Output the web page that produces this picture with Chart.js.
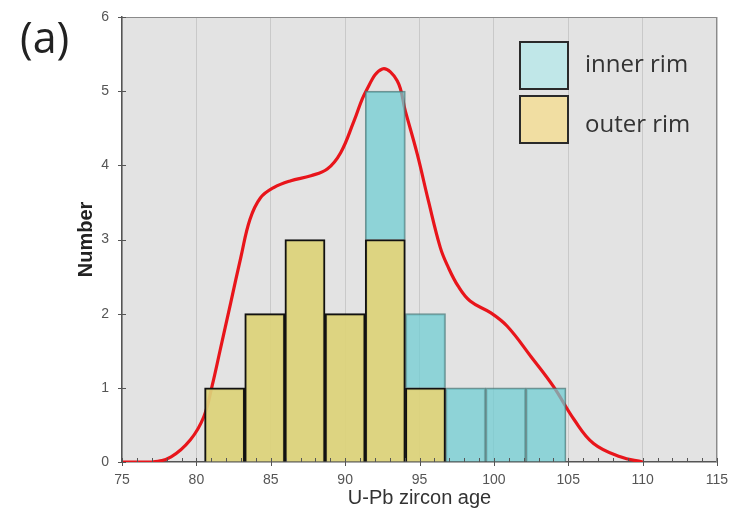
<!DOCTYPE html>
<html>
<head>
<meta charset="utf-8">
<script src="https://cdn.jsdelivr.net/npm/chart.js@4.4.0/dist/chart.umd.min.js"></script>
<style>
  body { margin: 0; background: #fff; }
  #wrap { position: relative; width: 734px; height: 511px; }
  #myChart { position: absolute; left: 0; top: 0; }
  #panel { position: absolute; left: 20px; top: 7px; font: 43px "Open Sans", sans-serif; color: #222; }
  .leg-box { position: absolute; left: 519px; width: 46px; height: 45px; border: 2px solid #2a2a2a; }
  .leg-txt { position: absolute; left: 585px; font: 24px "Open Sans", sans-serif; color: #333; }
</style>
</head>
<body>
<div id="wrap">
  <canvas id="myChart" width="734" height="511"></canvas>
  <div id="panel">(a)</div>
  <div class="leg-box" style="top:41px; background:#c0e7e8;"></div>
  <div class="leg-txt" style="top:46px;">inner rim</div>
  <div class="leg-box" style="top:95px; background:#f1dea2;"></div>
  <div class="leg-txt" style="top:106px;">outer rim</div>
</div>
<script>
// Données de l'histogramme (centres des classes, largeur ~2.7 Ma)
const binCenters = [81.9, 84.6, 87.3, 90.0, 92.7, 95.4, 98.1, 100.8, 103.5];
const outerRim = [1, 2, 3, 2, 3, 1, 0, 0, 0];
const innerRim = [0, 0, 0, 0, 2, 1, 1, 1, 1];

// Courbe de densité
const kdeAges = [75, 77, 78.3, 79.6, 80.5, 81.05, 81.6, 82.3, 83.0, 83.6, 84.3, 85.2, 86.3, 87.7, 88.8, 89.7,
  90.6, 91.4, 92.5, 93.5, 94.05, 94.85, 95.6, 96.4, 96.9, 97.6, 98.4, 99.8, 100.9, 102.5, 104.0, 105.4,
  106.7, 108.5, 110];
const kdeValues = [0, 0, 0.07, 0.3, 0.61, 1.02, 1.51, 2.14, 2.77, 3.27, 3.56, 3.7, 3.79, 3.86, 3.95, 4.17,
  4.6, 5.0, 5.3, 5.14, 4.73, 4.15, 3.52, 2.89, 2.64, 2.37, 2.17, 2.01, 1.83, 1.42, 1.02, 0.57,
  0.25, 0.07, 0];

// Axes
const xMin = 75, xMax = 115, xStep = 5;
const yMin = 0, yMax = 6;

// Construction des points
let outerData = [];
let innerData = [];
for (let i = 0; i < binCenters.length; i++) {
  if (outerRim[i] > 0) outerData.push({ x: binCenters[i], y: outerRim[i] });
  if (innerRim[i] > 0) innerData.push({ x: binCenters[i], y: innerRim[i] });
}
let kdeData = [];
for (let i = 0; i < kdeAges.length; i++) {
  kdeData.push({ x: kdeAges[i], y: kdeValues[i] });
}

// Pas de marge automatique autour des étiquettes
function noPadding(scale) {
  scale.paddingTop = 0;
  scale.paddingBottom = 0;
  scale.paddingLeft = 0;
  scale.paddingRight = 0;
}

// Fond gris, cadre et petites graduations
const framePlugin = {
  id: 'frame',
  beforeDraw(chart) {
    const a = chart.chartArea, ctx = chart.ctx;
    ctx.save();
    ctx.fillStyle = '#e3e3e3';
    ctx.fillRect(a.left, a.top, a.right - a.left, a.bottom - a.top);
    ctx.restore();
  },
  afterDraw(chart) {
    const a = chart.chartArea, ctx = chart.ctx;
    const xs = chart.scales.x, ys = chart.scales.y;
    ctx.save();
    ctx.strokeStyle = '#8a8a8a';
    ctx.lineWidth = 1;
    ctx.beginPath();
    ctx.moveTo(a.left, a.top + 0.5);
    ctx.lineTo(a.right, a.top + 0.5);
    ctx.moveTo(a.right - 0.5, a.top);
    ctx.lineTo(a.right - 0.5, a.bottom);
    ctx.stroke();

    ctx.strokeStyle = '#555';
    ctx.beginPath();
    for (let v = xMin; v <= xMax; v++) {
      const px = Math.round(xs.getPixelForValue(v)) + 0.5;
      if (v % xStep === 0) {
        ctx.moveTo(px, a.bottom - 4);
        ctx.lineTo(px, a.bottom + 4);
      } else {
        ctx.moveTo(px, a.bottom - 4);
        ctx.lineTo(px, a.bottom);
      }
    }
    for (let v = yMin; v <= yMax; v++) {
      const py = Math.round(ys.getPixelForValue(v)) + 0.5;
      ctx.moveTo(a.left - 4, py);
      ctx.lineTo(a.left + 4, py);
    }
    ctx.stroke();
    ctx.restore();
  }
};

const ctx = document.getElementById('myChart');

new Chart(ctx, {
  data: {
    datasets: [
      {
        type: 'bar',
        label: 'outer rim',
        data: outerData,
        backgroundColor: 'rgba(220, 210, 120, 0.92)',
        borderColor: '#111',
        borderWidth: 2,
        barPercentage: 1,
        categoryPercentage: 1,
        order: 1
      },
      {
        type: 'bar',
        label: 'inner rim',
        data: innerData,
        backgroundColor: 'rgba(110, 205, 210, 0.72)',
        borderColor: 'rgba(70, 120, 120, 0.75)',
        borderWidth: 1.5,
        barPercentage: 1,
        categoryPercentage: 1,
        order: 2
      },
      {
        type: 'line',
        label: 'KDE',
        data: kdeData,
        borderColor: '#e8151b',
        borderWidth: 3.2,
        pointRadius: 0,
        tension: 0.4,
        order: 3
      }
    ]
  },
  options: {
    responsive: false,
    animation: false,
    devicePixelRatio: 1,
    layout: { autoPadding: false, padding: { left: 72, top: 17, right: 17, bottom: 0 } },
    plugins: {
      legend: { display: false },
      tooltip: { enabled: false }
    },
    scales: {
      x: {
        type: 'linear',
        stacked: true,
        offset: false,
        min: xMin,
        max: xMax,
        ticks: {
          stepSize: xStep,
          padding: 10,
          color: '#555',
          font: { family: 'Liberation Sans, Arial', size: 14 }
        },
        grid: { color: '#c9c9c9', lineWidth: 1, drawTicks: false, offset: false },
        border: { color: '#555', width: 1.5 },
        title: {
          display: true,
          text: 'U-Pb zircon age',
          color: '#333',
          padding: 1,
          font: { family: 'Liberation Sans, Arial', size: 20 }
        },
        afterFit(scale) { scale.height = 49; noPadding(scale); }
      },
      y: {
        stacked: true,
        min: yMin,
        max: yMax,
        ticks: {
          stepSize: 1,
          padding: 13,
          color: '#555',
          font: { family: 'Liberation Sans, Arial', size: 14 }
        },
        grid: { color: 'transparent', drawTicks: false },
        border: { color: '#555', width: 1.5 },
        title: {
          display: true,
          text: 'Number',
          color: '#222',
          padding: 2,
          font: { family: 'Liberation Sans, Arial', size: 20, weight: 'bold' }
        },
        afterFit(scale) { scale.width = 50; noPadding(scale); }
      }
    }
  },
  plugins: [framePlugin]
});
</script>
</body>
</html>
